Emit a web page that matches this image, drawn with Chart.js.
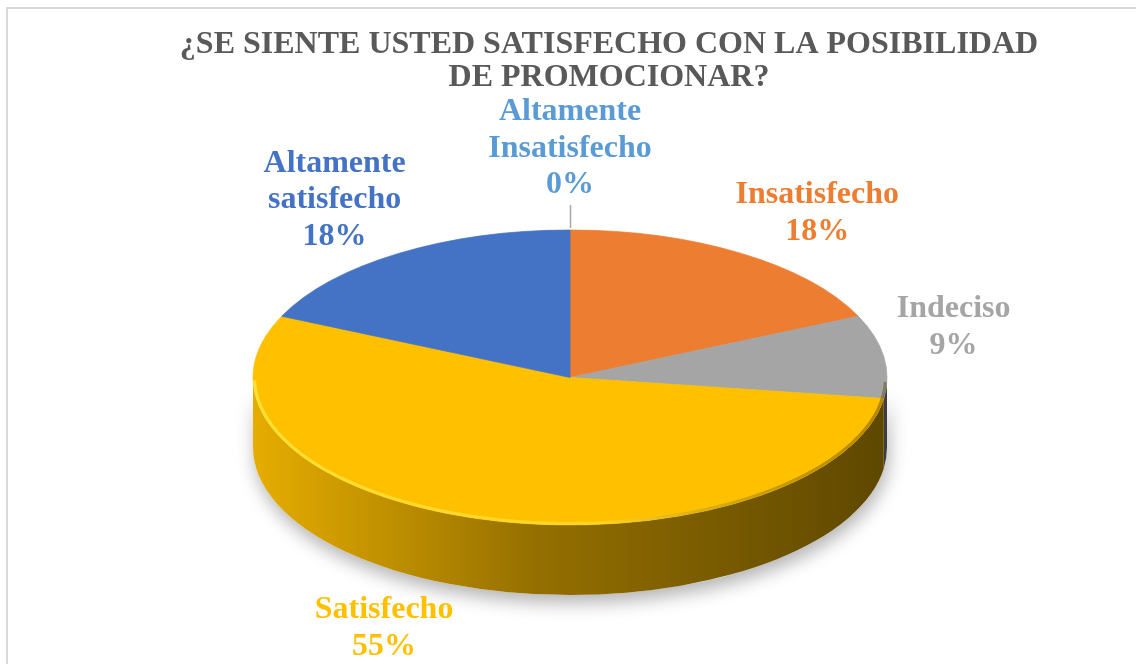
<!DOCTYPE html>
<html>
<head>
<meta charset="utf-8">
<script src="https://cdn.jsdelivr.net/npm/chart.js@4.4.0/dist/chart.umd.min.js"></script>
<style>
  html, body { margin: 0; padding: 0; background: #fff; overflow: hidden; }
  .frame { position: absolute; left: 6px; top: 7px; width: 1200px; height: 720px; border: 2px solid #d9d9d9; box-sizing: border-box; }
  .chart-box { position: absolute; left: 0; top: 0; width: 1136px; height: 664px; }
</style>
</head>
<body>
<div class="frame"></div>
<div class="chart-box"><canvas id="pie" width="1136" height="664"></canvas></div>
<script>
const categories = ['Altamente Insatisfecho', 'Insatisfecho', 'Indeciso', 'Satisfecho', 'Altamente satisfecho'];
const counts = [0, 2, 1, 6, 2];
const sliceColors = ['#5B9BD5', '#ED7D31', '#A5A5A5', '#FFC000', '#4472C4'];
const titleLines = ['¿SE SIENTE USTED SATISFECHO CON LA POSIBILIDAD', 'DE PROMOCIONAR?'];

const FONT = '"Liberation Serif", "Times New Roman", serif';
const TILT = 147.5 / 317;   // vertical squash of the top face
const DEPTH = 70;           // height of the side wall, px
const CENTER_Y = 377.5;     // screen y of the pie centre
const GAP = 8;
const LABEL_SIZE = 32;
const LINE_H = 36.5;
// fine placement of the data labels (Excel "best fit" look)
const labelNudge = [[0, -19], [19, 3], [5, -23], [-74, -2], [-14, 8]];

function shade(hex, f) {
  const n = parseInt(hex.slice(1), 16);
  const r = Math.round(((n >> 16) & 255) * f);
  const g = Math.round(((n >> 8) & 255) * f);
  const b = Math.round((n & 255) * f);
  return `rgb(${r},${g},${b})`;
}

function sidePath(ctx, x, r, ry, a0, a1) {
  ctx.beginPath();
  ctx.ellipse(x, CENTER_Y, r, ry, 0, a0, a1);
  ctx.lineTo(x + r * Math.cos(a1), CENTER_Y + ry * Math.sin(a1) + DEPTH);
  ctx.ellipse(x, CENTER_Y + DEPTH, r, ry, 0, a1, a0, true);
  ctx.closePath();
}

const pie3dPlugin = {
  id: 'pie3d',
  beforeDatasetsDraw(chart) {
    const ctx = chart.ctx;
    const arcs = chart.getDatasetMeta(0).data;
    const { x, y, outerRadius: r } = arcs[0];
    const ry = r * TILT;

    // soft shadow under the whole disc
    ctx.save();
    ctx.shadowColor = 'rgba(0,0,0,0.3)';
    ctx.shadowBlur = 18;
    ctx.shadowOffsetY = 8;
    ctx.shadowOffsetX = 2;
    sidePath(ctx, x, r, ry, 0, Math.PI);
    ctx.fillStyle = '#fff';
    ctx.fill();
    ctx.restore();

    // side walls, only the front half shows
    ctx.save();
    arcs.forEach((arc, i) => {
      const a0 = Math.max(arc.startAngle, 0);
      const a1 = Math.min(arc.endAngle, Math.PI);
      if (a1 <= a0) return;
      const grad = ctx.createLinearGradient(x - r, 0, x + r, 0);
      grad.addColorStop(0, shade(sliceColors[i], 0.9));
      grad.addColorStop(0.45, shade(sliceColors[i], 0.58));
      grad.addColorStop(1, shade(sliceColors[i], 0.37));
      sidePath(ctx, x, r, ry, a0, a1);
      ctx.fillStyle = grad;
      ctx.fill();
    });
    ctx.restore();

    // squash the top face into an ellipse
    ctx.save();
    ctx.translate(0, CENTER_Y);
    ctx.scale(1, TILT);
    ctx.translate(0, -y);
  },
  afterDatasetsDraw(chart) {
    const ctx = chart.ctx;
    ctx.restore();
    const arcs = chart.getDatasetMeta(0).data;
    const { x, outerRadius: r } = arcs[0];
    const ry = r * TILT;

    // bevel on the front rim
    ctx.save();
    const rim = ctx.createLinearGradient(x - r, 0, x + r, 0);
    rim.addColorStop(0, 'rgba(255,228,60,0.9)');
    rim.addColorStop(0.55, 'rgba(255,220,50,0.7)');
    rim.addColorStop(1, 'rgba(90,65,0,0.45)');
    ctx.strokeStyle = rim;
    ctx.lineWidth = 3;
    ctx.beginPath();
    ctx.ellipse(x, CENTER_Y, r - 1.5, ry - 1.5, 0, 0.03, Math.PI - 0.02);
    ctx.stroke();
    ctx.restore();

    // data labels
    const total = counts.reduce((a, b) => a + b, 0);
    ctx.save();
    ctx.font = `bold ${LABEL_SIZE}px ${FONT}`;
    ctx.textAlign = 'center';
    ctx.textBaseline = 'middle';
    arcs.forEach((arc, i) => {
      const mid = (arc.startAngle + arc.endAngle) / 2;
      const c = Math.cos(mid), s = Math.sin(mid);
      const ax = x + (r + GAP) * c;
      let ay = CENTER_Y + (ry + GAP) * s;
      if (s > 0) ay += DEPTH * s;
      const words = categories[i].split(' ');
      const lines = words.concat(Math.round(counts[i] / total * 100) + '%');
      const w = Math.max(...lines.map(t => ctx.measureText(t).width));
      const h = lines.length * LINE_H;
      const m = Math.max(Math.abs(c), Math.abs(s));
      const bx = ax + (c / m) * w / 2 + labelNudge[i][0];
      const by = ay + (s / m) * h / 2 + labelNudge[i][1];
      ctx.fillStyle = sliceColors[i];
      lines.forEach((t, j) => ctx.fillText(t, bx, by - h / 2 + (j + 0.5) * LINE_H));
      if (counts[i] === 0) {
        ctx.strokeStyle = '#a6a6a6';
        ctx.lineWidth = 1.5;
        ctx.beginPath();
        ctx.moveTo(Math.round(ax) + 0.5, by + h / 2 + 2);
        ctx.lineTo(Math.round(ax) + 0.5, CENTER_Y - ry - 2);
        ctx.stroke();
      }
    });
    ctx.restore();
  },
  afterDraw(chart) {
    const ctx = chart.ctx;
    ctx.save();
    ctx.font = `bold 32px ${FONT}`;
    ctx.fillStyle = '#595959';
    ctx.textAlign = 'center';
    ctx.textBaseline = 'middle';
    titleLines.forEach((t, j) => ctx.fillText(t, 609, 45 + j * 33));
    ctx.restore();
  }
};

new Chart(document.getElementById('pie'), {
  type: 'pie',
  data: {
    labels: categories,
    datasets: [{
      data: counts,
      backgroundColor: sliceColors,
      borderColor: sliceColors,
      borderWidth: 1,
      radius: 317,
    }],
  },
  options: {
    responsive: false,
    animation: false,
    layout: { padding: { left: 4 } },
    plugins: {
      legend: { display: false },
      tooltip: { enabled: false },
      title: { display: false },
    },
  },
  plugins: [pie3dPlugin],
});
</script>
</body>
</html>
